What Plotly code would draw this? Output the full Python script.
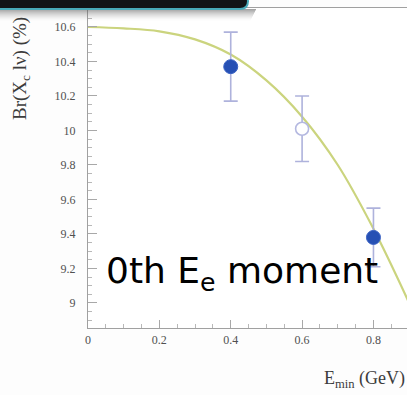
import plotly.graph_objects as go

# Measured branching fraction vs. lepton energy cut
e_min_filled = [0.4, 0.8]
br_filled = [10.37, 9.38]
err_filled = [0.20, 0.17]

e_min_open = [0.6]
br_open = [10.01]
err_open = [0.19]

# Fit curve
curve_e = [0.0, 0.1, 0.2, 0.3, 0.4, 0.5, 0.6, 0.7, 0.8, 0.9]
curve_br = [10.60, 10.592, 10.575, 10.528, 10.44, 10.29, 10.08, 9.80, 9.43, 9.00]

x_ticks = [0, 0.2, 0.4, 0.6, 0.8]
x_labels = ["0", "0.2", "0.4", "0.6", "0.8"]
y_ticks = [9.0, 9.2, 9.4, 9.6, 9.8, 10.0, 10.2, 10.4, 10.6]
y_labels = ["9", "9.2", "9.4", "9.6", "9.8", "10", "10.2", "10.4", "10.6"]

W, H = 407, 395
ML, MT, MB, MR = 88, 8, 67, 0
PW, PH = W - ML - MR, H - MT - MB


def px(x):
    return (x - ML) / PW


def py(y):
    return (H - MB - y) / PH


fig = go.Figure()

fig.add_trace(go.Scatter(
    x=curve_e, y=curve_br, mode="lines", line_shape="spline",
    line=dict(color="#cbd47e", width=2.2, smoothing=1.0),
    hoverinfo="skip", showlegend=False,
))

fig.add_trace(go.Scatter(
    x=e_min_open, y=br_open, mode="markers",
    error_y=dict(type="data", array=err_open, color="#aeb2dc", thickness=1.6, width=7),
    marker=dict(symbol="circle", size=13, color="white",
                line=dict(color="#b4b8e0", width=1.6)),
    showlegend=False,
))

fig.add_trace(go.Scatter(
    x=e_min_filled, y=br_filled, mode="markers",
    error_y=dict(type="data", array=err_filled, color="#aeb2dc", thickness=1.6, width=7),
    marker=dict(symbol="circle", size=14, color="#2650b4",
                line=dict(color="#3a62c4", width=1)),
    showlegend=False,
))

shapes = []
# Drop shadow under the title bar
for i in range(12):
    shapes.append(dict(
        type="rect", xref="paper", yref="paper", layer="above",
        x0=px(0), x1=px(256 - i * 0.5), y0=py(9 + i + 1), y1=py(9 + i),
        fillcolor="rgba(90,90,90,%.3f)" % (0.55 * (1 - i / 12) ** 1.6),
        line=dict(width=0),
    ))
# Title bar with rounded corner
x0, x1, y0, y1, r = px(-5), px(248), py(-6), py(9), 8
rx, ry = r / PW, r / PH
shapes.append(dict(
    type="path", xref="paper", yref="paper", layer="above",
    path=(f"M {x0},{y0} L {x1 - rx},{y0} Q {x1},{y0} {x1},{y0 - ry} "
          f"L {x1},{y1 + ry} Q {x1},{y1} {x1 - rx},{y1} L {x0},{y1} Z"),
    fillcolor="#121416", line=dict(color="#49aab8", width=2),
))

fig.update_layout(
    width=W, height=H,
    margin=dict(l=ML, r=MR, t=MT, b=MB),
    paper_bgcolor="#fdfdfd", plot_bgcolor="white",
    shapes=shapes,
    xaxis=dict(
        range=[0, 0.894], tickvals=x_ticks, ticktext=x_labels,
        showgrid=False, zeroline=False, showline=True, mirror=True,
        linecolor="#a0a0a0", linewidth=1.2,
        ticks="inside", ticklen=8, tickcolor="#a8a8a8", tickwidth=1,
        minor=dict(ticks="inside", dtick=0.05, ticklen=4, tickcolor="#b8b8b8"),
        tickfont=dict(family="Liberation Serif", size=12, color="#505050"),
    ),
    yaxis=dict(
        range=[8.855, 10.71], tickvals=y_ticks, ticktext=y_labels,
        showgrid=False, zeroline=False, showline=True,
        linecolor="#a0a0a0", linewidth=1.2,
        ticks="inside", ticklen=9, tickcolor="#a8a8a8", tickwidth=1,
        minor=dict(ticks="inside", dtick=0.05, ticklen=4, tickcolor="#b8b8b8"),
        tickfont=dict(family="Liberation Serif", size=12, color="#505050"),
        ticklabelstandoff=9,
    ),
    annotations=[
        dict(text="Br(X<sub>c</sub> lν) (%)", xref="paper", yref="paper",
             x=px(21), y=py(69), xanchor="center", yanchor="middle",
             textangle=-90, showarrow=False,
             font=dict(family="Liberation Serif", size=19, color="#3c3c3c")),
        dict(text="E<sub>min</sub> (GeV)", xref="paper", yref="paper",
             x=px(407), y=py(379), xanchor="right", yanchor="middle", showarrow=False,
             font=dict(family="Liberation Serif", size=18, color="#3c3c3c")),
        dict(text="0th E<sub>e</sub> moment", xref="paper", yref="paper",
             x=px(104), y=py(273), xanchor="left", yanchor="middle", showarrow=False,
             font=dict(family="DejaVu Sans", size=36, color="black")),
    ],
)

fig.write_html("out.html")
